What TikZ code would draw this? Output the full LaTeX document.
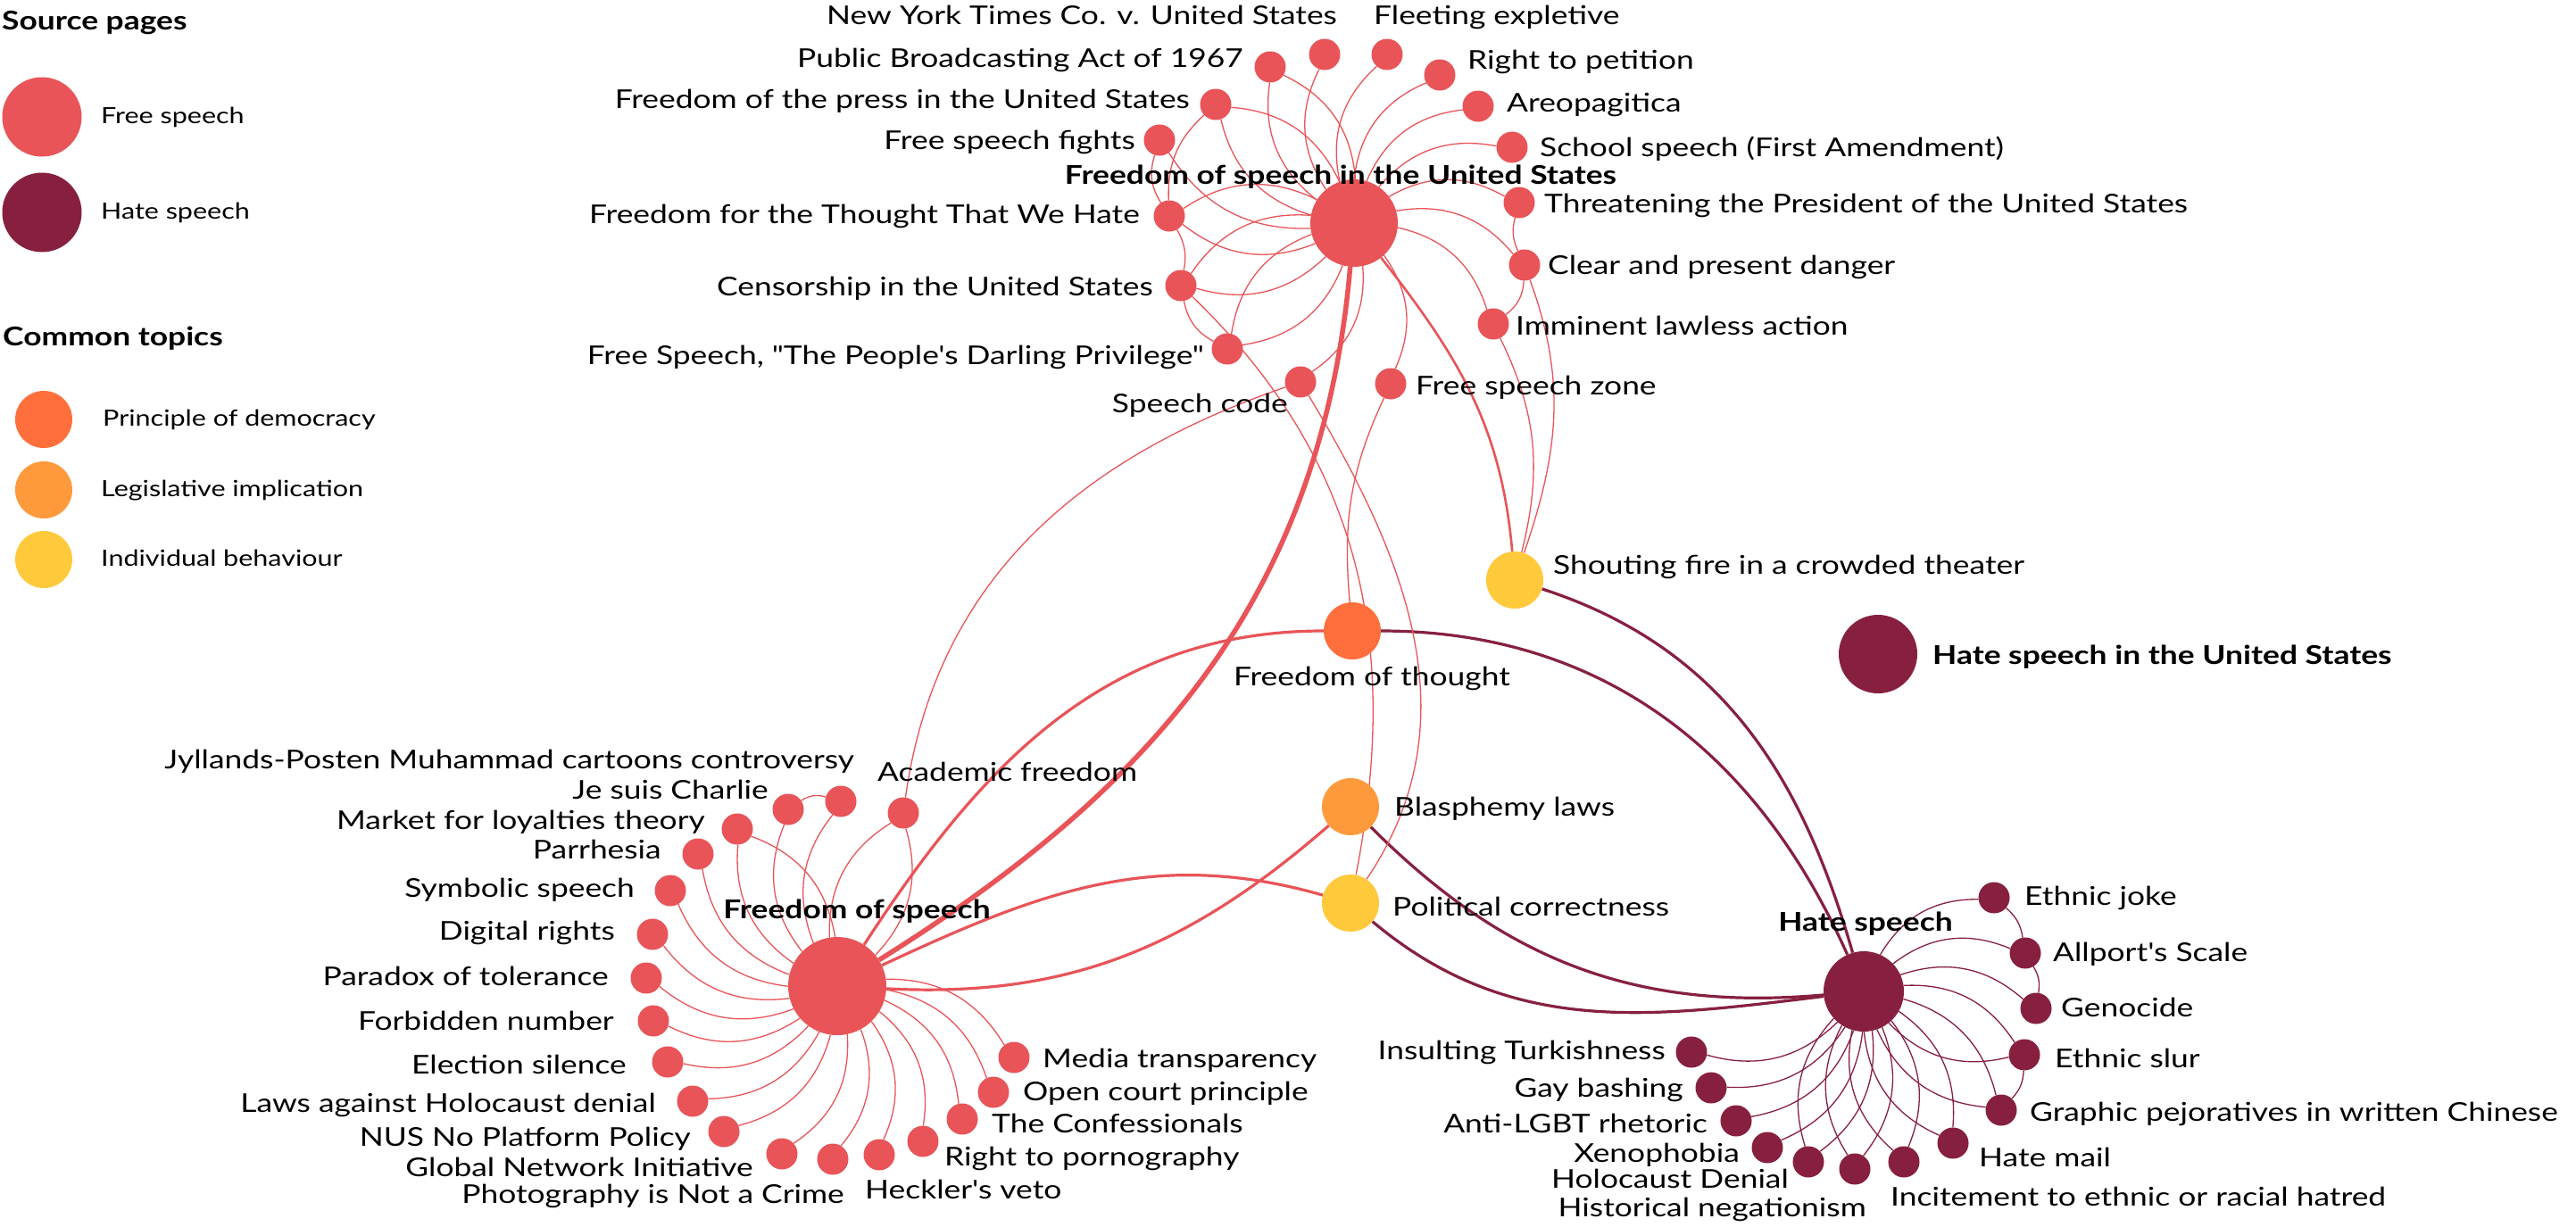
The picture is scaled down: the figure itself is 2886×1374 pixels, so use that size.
\documentclass[tikz,border=0pt]{standalone}
\usepackage{fontspec}
\setmainfont{Lato}[FakeStretch=1.22,Ligatures=TeXOff]
\pgfdeclarelayer{bg}
\pgfdeclarelayer{edges}
\pgfsetlayers{bg,edges,main}
\definecolor{fsc}{HTML}{E85458}
\definecolor{hsc}{HTML}{87203F}
\definecolor{pdc}{HTML}{FF6F3C}
\definecolor{lic}{HTML}{FF9A3C}
\definecolor{ibc}{HTML}{FFC93C}
\newcommand\lblfont{\fontsize{29}{34}\selectfont}
\newcommand\blblfont{\fontsize{29}{34}\selectfont\bfseries}
\newcommand\legfont{\fontsize{25}{30}\selectfont}
\begin{document}
\begin{tikzpicture}[x=1pt,y=1pt,
  sat/.style={circle,fill=fsc,minimum size=35,inner sep=0},
  hsat/.style={circle,fill=hsc,minimum size=35,inner sep=0},
  topic/.style={circle,minimum size=64,inner sep=0},
  lbl/.style={font=\lblfont,inner sep=0,text=black},
  lr/.style={lbl,anchor=mid west,yshift=-7},
  ll/.style={lbl,anchor=mid east,yshift=-7},
  blbl/.style={font=\blblfont,inner sep=0,text=black},
  blr/.style={blbl,anchor=mid west,yshift=-7},
  legtxt/.style={font=\legfont,inner sep=0,anchor=mid west,yshift=-5},
  e/.style={draw=fsc,line width=1.3},
  eh/.style={draw=hsc,line width=1.3},
  em/.style={draw=fsc,line width=3.2},
  ehm/.style={draw=hsc,line width=3.2},
  eth/.style={draw=fsc,line width=5.5}]
\begin{pgfonlayer}{bg}
\fill[white] (0,0) rectangle (2886,-1374);
\end{pgfonlayer}
\useasboundingbox (0,0) rectangle (2886,-1374);

% ---------- legend ----------
\node[blr] (lg-src) at (2,-24) {Source pages};
\node[circle,fill=fsc,minimum size=89,inner sep=0] (lg-fs) at (47,-131) {};
\node[legtxt] (lg-fst) at (113,-131) {Free speech};
\node[circle,fill=hsc,minimum size=89,inner sep=0] (lg-hs) at (47,-238) {};
\node[legtxt] (lg-hst) at (113,-238) {Hate speech};
\node[blr] (lg-ct) at (3,-378) {Common topics};
\node[topic,fill=pdc] (lg-pd) at (49,-470) {};
\node[legtxt] (lg-pdt) at (115,-470) {Principle of democracy};
\node[topic,fill=lic] (lg-li) at (49,-549) {};
\node[legtxt] (lg-lit) at (113,-549) {Legislative implication};
\node[topic,fill=ibc] (lg-ib) at (49,-627) {};
\node[legtxt] (lg-ibt) at (113,-627) {Individual behaviour};

% ---------- Freedom of speech in the United States ----------
\node[circle,fill=fsc,minimum size=98,inner sep=0] (fsus) at (1517,-250) {};
\node[sat] (pba) at (1423,-75) {};
\node[sat] (nyt) at (1484,-61) {};
\node[sat] (fle) at (1554,-61) {};
\node[sat] (rtp) at (1613,-84) {};
\node[sat] (are) at (1656,-119) {};
\node[sat] (ssp) at (1694,-165) {};
\node[sat] (thr) at (1702,-227) {};
\node[sat] (cpd) at (1708,-297) {};
\node[sat] (ila) at (1673,-363) {};
\node[sat] (fsz) at (1558,-430) {};
\node[sat] (spc) at (1457,-428) {};
\node[sat] (pdp) at (1375,-391) {};
\node[sat] (cen) at (1323,-320) {};
\node[sat] (fth) at (1310,-242) {};
\node[sat] (fsf) at (1299,-157) {};
\node[sat] (fpr) at (1362,-117) {};

\node[ll] (l-nyt) at (1498,-18) {New York Times Co. v. United States};
\node[lr] (l-fle) at (1539,-18) {Fleeting expletive};
\node[ll] (l-pba) at (1393,-66) {Public Broadcasting Act of 1967};
\node[lr] (l-rtp) at (1644,-68) {Right to petition};
\node[ll] (l-fpr) at (1333,-112) {Freedom of the press in the United States};
\node[lr] (l-are) at (1688,-116) {Areopagitica};
\node[ll] (l-fsf) at (1272,-158) {Free speech fights};
\node[lr] (l-ssp) at (1725,-166) {School speech (First Amendment)};
\node[ll] (l-fth) at (1277,-241) {Freedom for the Thought That We Hate};
\node[lr] (l-thr) at (1730,-229) {Threatening the President of the United States};
\node[ll] (l-cen) at (1292,-322) {Censorship in the United States};
\node[lr] (l-cpd) at (1734,-298) {Clear and present danger};
\node[ll] (l-pdp) at (1349,-399) {Free Speech, "The People's Darling Privilege"};
\node[lr] (l-ila) at (1698,-366) {Imminent lawless action};
\node[lr] (l-fsz) at (1586,-433) {Free speech zone};
\node[ll] (l-spc) at (1443,-453) {Speech code};
\node[blbl] (l-fsus) at (1502,-198) {Freedom of speech in the United States};

% ---------- common topics ----------
\node[topic,fill=pdc] (fot) at (1515,-707) {};
\node[topic,fill=lic] (blas) at (1513,-904) {};
\node[topic,fill=ibc] (pc) at (1513,-1012) {};
\node[topic,fill=ibc] (sf) at (1697,-650) {};
\node[lbl] (l-fot) at (1537,-760) {Freedom of thought};
\node[lr] (l-blas) at (1562,-905) {Blasphemy laws};
\node[lr] (l-pc) at (1560,-1017) {Political correctness};
\node[lr] (l-sf) at (1740,-634) {Shouting fire in a crowded theater};

% ---------- Hate speech in the United States ----------
\node[circle,fill=hsc,minimum size=88,inner sep=0] (hsus) at (2104,-733) {};
\node[blr] (l-hsus) at (2165,-735) {Hate speech in the United States};

% ---------- Freedom of speech ----------
\node[circle,fill=fsc,minimum size=110,inner sep=0] (fs) at (938,-1105) {};
\node[sat] (acad) at (1012,-911) {};
\node[sat] (jp) at (942,-898) {};
\node[sat] (jc) at (883,-907) {};
\node[sat] (mfl) at (826,-929) {};
\node[sat] (parr) at (782,-957) {};
\node[sat] (sym) at (751,-998) {};
\node[sat] (dig) at (731,-1047) {};
\node[sat] (par) at (724,-1096) {};
\node[sat] (forb) at (732,-1144) {};
\node[sat] (elec) at (748,-1190) {};
\node[sat] (laws) at (776,-1234) {};
\node[sat] (nus) at (811,-1268) {};
\node[sat] (gni) at (876,-1293) {};
\node[sat] (photo) at (933,-1299) {};
\node[sat] (heck) at (985,-1294) {};
\node[sat] (porn) at (1034,-1279) {};
\node[sat] (conf) at (1078,-1254) {};
\node[sat] (open) at (1113,-1224) {};
\node[sat] (media) at (1136,-1185) {};

\node[lr] (l-acad) at (983,-866) {Academic freedom};
\node[ll] (l-jp) at (957,-852) {Jyllands-Posten Muhammad cartoons controversy};
\node[ll] (l-jc) at (861,-886) {Je suis Charlie};
\node[ll] (l-mfl) at (790,-920) {Market for loyalties theory};
\node[ll] (l-parr) at (741,-953) {Parrhesia};
\node[ll] (l-sym) at (711,-996) {Symbolic speech};
\node[ll] (l-dig) at (689,-1044) {Digital rights};
\node[ll] (l-par) at (682,-1095) {Paradox of tolerance};
\node[ll] (l-forb) at (688,-1145) {Forbidden number};
\node[ll] (l-elec) at (702,-1194) {Election silence};
\node[ll] (l-laws) at (735,-1237) {Laws against Holocaust denial};
\node[ll] (l-nus) at (774,-1275) {NUS No Platform Policy};
\node[ll] (l-gni) at (844,-1309) {Global Network Initiative};
\node[ll] (l-photo) at (946,-1339) {Photography is Not a Crime};
\node[lr] (l-heck) at (969,-1334) {Heckler's veto};
\node[lr] (l-porn) at (1058,-1297) {Right to pornography};
\node[lr] (l-conf) at (1111,-1260) {The Confessionals};
\node[lr] (l-open) at (1146,-1224) {Open court principle};
\node[lr] (l-media) at (1168,-1187) {Media transparency};
\node[blbl] (l-fs) at (960,-1021) {Freedom of speech};

% ---------- Hate speech ----------
\node[circle,fill=hsc,minimum size=90,inner sep=0] (hs) at (2088,-1111) {};
\node[hsat] (ej) at (2234,-1006) {};
\node[hsat] (alp) at (2269,-1068) {};
\node[hsat] (gen) at (2281,-1130) {};
\node[hsat] (es) at (2268,-1182) {};
\node[hsat] (gp) at (2242,-1244) {};
\node[hsat] (hm) at (2188,-1281) {};
\node[hsat] (inc) at (2133,-1302) {};
\node[hsat] (hn) at (2078,-1310) {};
\node[hsat] (hd) at (2026,-1302) {};
\node[hsat] (xen) at (1980,-1286) {};
\node[hsat] (algbt) at (1945,-1256) {};
\node[hsat] (gb) at (1917,-1219) {};
\node[hsat] (it) at (1895,-1179) {};

\node[lr] (l-ej) at (2268,-1005) {Ethnic joke};
\node[lr] (l-alp) at (2300,-1068) {Allport's Scale};
\node[lr] (l-gen) at (2309,-1130) {Genocide};
\node[lr] (l-es) at (2302,-1187) {Ethnic slur};
\node[lr] (l-gp) at (2274,-1247) {Graphic pejoratives in written Chinese};
\node[lr] (l-hm) at (2217,-1298) {Hate mail};
\node[lr] (l-inc) at (2118,-1342) {Incitement to ethnic or racial hatred};
\node[ll] (l-hn) at (2091,-1354) {Historical negationism};
\node[ll] (l-hd) at (2004,-1322) {Holocaust Denial};
\node[ll] (l-xen) at (1949,-1293) {Xenophobia};
\node[ll] (l-algbt) at (1913,-1260) {Anti-LGBT rhetoric};
\node[ll] (l-gb) at (1886,-1220) {Gay bashing};
\node[ll] (l-it) at (1866,-1178) {Insulting Turkishness};
\node[blbl] (l-hs) at (2090,-1035) {Hate speech};

% ---------- edges ----------
\begin{pgfonlayer}{edges}
% FSUS cluster
\foreach \s in {pba,nyt,fle,rtp,are,ssp,thr,cpd,ila,fsz,spc,pdp,cen,fth,fsf,fpr}
  \draw[e] (fsus) to[bend left=30] (\s);
\foreach \s in {pba,fpr,fth,cen,pdp}
  \draw[e] (fsus) to[bend right=30] (\s);
\draw[e] (fsf) to[bend right=25] (fth);
\draw[e] (fpr) to[bend right=25] (fth);
\draw[e] (fth) to[bend left=20] (cen);
\draw[e] (cen) to[bend right=25] (pdp);
\draw[e] (thr) to[bend right=20] (cpd);
\draw[e] (cpd) to[bend left=25] (ila);
% FS cluster
\foreach \s in {acad,jp,jc,mfl,parr,sym,dig,par,forb,elec,laws,nus,gni,photo,heck,porn,conf,open,media}
  \draw[e] (fs) to[bend left=30] (\s);
\foreach \s in {acad,mfl}
  \draw[e] (fs) to[bend right=30] (\s);
\draw[e] (jc) to[bend left=25] (jp);
% HS cluster
\foreach \s in {ej,alp,gen,es,gp,hm,inc,hn,hd,xen,algbt,gb,it}
  \draw[eh] (hs) to[bend left=30] (\s);
\foreach \s in {es,gp,hm,inc,hn,hd}
  \draw[eh] (hs) to[bend right=30] (\s);
\draw[eh] (ej) to[bend left=20] (alp);
\draw[eh] (alp) to[bend left=20] (gen);
\draw[eh] (es) to[bend left=20] (gp);
% cross edges
\draw[eth] (fsus) to[out=-95,in=32] (fs);
\draw[em] (fs) to[out=57,in=180] (fot);
\draw[ehm] (fot) to[out=0,in=114] (hs);
\draw[ehm] (sf) to[out=-18,in=106] (hs);
\draw[em] (fs) to[out=25,in=164] (pc);
\draw[em] (fs) to[out=-3,in=221] (blas);
\draw[ehm] (blas) to[out=-45,in=185] (hs);
\draw[ehm] (pc) to[out=-40,in=187] (hs);
\draw[draw=fsc,line width=2.6] (fsus) to[out=-52,in=95] (sf);
\draw[e] (cpd) to[out=-70,in=71] (sf);
\draw[e] (ila) to[out=-64,in=76] (sf);
\draw[e] (cen) to[out=-44,in=79] (pc);
\draw[e] (spc) to[out=-59,in=56] (pc);
\draw[e] (fsz) to[out=-115,in=95] (fot);
\draw[e] (spc) to[out=199,in=82] (acad);
\end{pgfonlayer}
\end{tikzpicture}
\end{document}
